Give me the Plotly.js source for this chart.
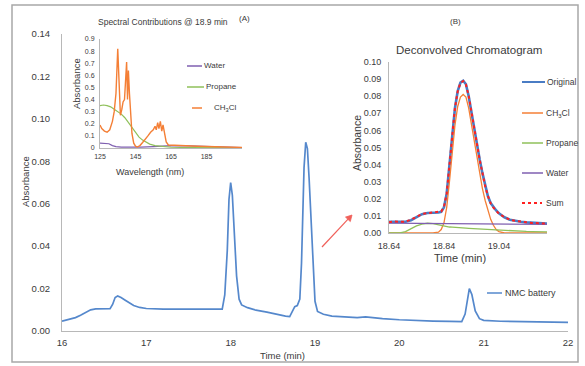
<!DOCTYPE html>
<html>
<head>
<meta charset="utf-8">
<script src="https://cdn.plot.ly/plotly-3.0.1.min.js"></script>
<style>html,body{margin:0;padding:0;background:#fff;}#chart{width:585px;height:366px;}</style>
</head>
<body>
<div id="chart"></div>
<script>
// ---------- Main chromatogram (NMC battery) ----------
const timeMain = [16.00,16.08,16.16,16.22,16.28,16.34,16.40,16.50,16.57,16.60,16.63,16.66,16.70,16.75,16.80,16.85,16.92,17.00,17.20,17.40,17.60,17.80,17.90,17.93,17.96,17.98,18.00,18.02,18.04,18.07,18.10,18.13,18.20,18.30,18.43,18.55,18.65,18.70,18.73,18.76,18.79,18.82,18.84,18.85,18.87,18.89,18.91,18.93,18.95,18.97,19.00,19.03,19.10,19.20,19.35,19.50,19.60,19.68,19.80,20.00,20.20,20.40,20.60,20.74,20.78,20.81,20.83,20.86,20.90,20.95,21.00,21.20,21.40,21.60,21.80,22.00];
const nmcBattery = [0.0046,0.0053,0.0063,0.0074,0.0088,0.0100,0.0104,0.0104,0.0105,0.0125,0.0158,0.0165,0.0158,0.0145,0.0131,0.0120,0.0111,0.0106,0.0103,0.0102,0.0101,0.0101,0.0103,0.0170,0.0380,0.0620,0.0700,0.0640,0.0490,0.0260,0.0150,0.0123,0.0110,0.0098,0.0089,0.0078,0.0070,0.0068,0.0090,0.0115,0.0120,0.0150,0.0320,0.0510,0.0770,0.0890,0.0860,0.0720,0.0560,0.0340,0.0140,0.0092,0.0079,0.0070,0.0065,0.0063,0.0067,0.0063,0.0058,0.0053,0.0049,0.0047,0.0045,0.0044,0.0080,0.0165,0.0200,0.0172,0.0095,0.0058,0.0050,0.0046,0.0045,0.0043,0.0042,0.0041];

// ---------- Inset A: spectral contributions ----------
const wlCH3Cl = [125,126,127.5,129,130.5,132,133,134,135,135.8,136.5,137.3,138,138.8,139.4,140,140.5,141,141.6,142.2,143,144,145,146,147.5,149,150.5,152,153.5,155,156,156.7,157.5,158.2,159,159.8,160.5,161.3,162.3,163.5,167,172,180,190,198,205];
const specCH3Cl = [0.19,0.16,0.14,0.13,0.15,0.22,0.30,0.45,0.82,0.50,0.27,0.32,0.38,0.40,0.55,0.71,0.40,0.64,0.45,0.25,0.12,0.04,0.015,0.008,0.02,0.045,0.07,0.10,0.13,0.15,0.18,0.15,0.21,0.16,0.22,0.14,0.19,0.13,0.05,0.025,0.022,0.02,0.015,0.01,0.007,0.005];
const wlPropane = [125,127,129,131,133,135,137,139,141,143,145,147,149,151,153,156,160,165,175,190,205];
const specPropane = [0.35,0.355,0.35,0.34,0.32,0.30,0.28,0.25,0.21,0.16,0.12,0.09,0.065,0.045,0.032,0.02,0.012,0.006,0.004,0.002,0.001];
const wlWater = [125,128,130,132,134,137,142,148,155,160,165,175,185,195,205];
const specWater = [0.04,0.04,0.035,0.02,0.012,0.008,0.006,0.008,0.012,0.018,0.02,0.018,0.012,0.007,0.004];
const wlTicks = [125,145,165,185];

// ---------- Inset B: deconvolved chromatogram ----------
const timeB = [18.64,18.66,18.68,18.70,18.72,18.74,18.76,18.78,18.80,18.82,18.83,18.84,18.85,18.86,18.87,18.88,18.89,18.90,18.91,18.92,18.93,18.94,18.95,18.96,18.97,18.98,18.99,19.00,19.01,19.02,19.03,19.04,19.06,19.08,19.10,19.12,19.14,19.16,19.18,19.20,19.215];
const original = [0.0065,0.0066,0.0064,0.0066,0.0075,0.0095,0.0110,0.0117,0.0118,0.0120,0.0124,0.0150,0.0230,0.0400,0.0580,0.0730,0.0830,0.0880,0.0890,0.0870,0.0800,0.0705,0.0610,0.0515,0.0430,0.0350,0.0275,0.0215,0.0175,0.0150,0.0132,0.0115,0.0092,0.0078,0.0070,0.0066,0.0062,0.0060,0.0058,0.0056,0.0055];
const sumFit = [0.0063,0.0067,0.0065,0.0067,0.0078,0.0096,0.0111,0.0116,0.0119,0.0121,0.0126,0.0152,0.0232,0.0398,0.0578,0.0732,0.0828,0.0878,0.0888,0.0868,0.0802,0.0707,0.0608,0.0517,0.0428,0.0352,0.0273,0.0217,0.0173,0.0148,0.0130,0.0113,0.0093,0.0077,0.0071,0.0065,0.0063,0.0059,0.0059,0.0056,0.0054];
const ch3clB = [0,0,0,0,0,0,0,0,0,0.0005,0.0020,0.0060,0.0150,0.0300,0.0480,0.0630,0.0740,0.0795,0.0810,0.0795,0.0730,0.0640,0.0540,0.0440,0.0345,0.0260,0.0190,0.0130,0.0080,0.0045,0.0020,0.0008,0,0,0,0,0,0,0,0,0];
const propaneB = [0,0,0.0001,0.0008,0.0025,0.0042,0.0052,0.0057,0.0055,0.0047,0.0043,0.0040,0.0037,0.0035,0.0034,0.0032,0.0031,0.0030,0.0029,0.0028,0.0027,0.0026,0.0025,0.0024,0.0023,0.0021,0.0020,0.0019,0.0018,0.0017,0.0016,0.0015,0.0013,0.0012,0.0011,0.0010,0.0009,0.0008,0.0007,0.0006,0.0006];
const timeWaterB = [18.64,18.80,19.00,19.215];
const waterB = [0.0058,0.0056,0.0053,0.0050];
const timeBTicks = [18.64,18.84,19.04];

// ---------- styling ----------
const W = 585, H = 366;
const px = x => x / W;
const py = y => 1 - y / H;
const FONT = 'Liberation Sans, Arial, sans-serif';
const TXT = '#3a3a3a';
const C = {blue:'#5588cc', orange:'#f47f36', green:'#8fc05a', purple:'#7f5fb0', red:'#ff2020', origBlue:'#4a7cc4', arrow:'#f0605a'};

const traces = [
  {x: timeMain, y: nmcBattery, name: 'NMC battery', type:'scatter', mode:'lines', line:{color:C.blue, width:1.7}, xaxis:'x', yaxis:'y', showlegend:false},
  {x: wlWater, y: specWater, name:'Water', type:'scatter', mode:'lines', line:{color:C.purple, width:1.2}, xaxis:'x2', yaxis:'y2', showlegend:false},
  {x: wlPropane, y: specPropane, name:'Propane', type:'scatter', mode:'lines', line:{color:C.green, width:1.2}, xaxis:'x2', yaxis:'y2', showlegend:false},
  {x: wlCH3Cl, y: specCH3Cl, name:'CH3Cl', type:'scatter', mode:'lines', line:{color:C.orange, width:1.4}, xaxis:'x2', yaxis:'y2', showlegend:false},
  {x: timeB, y: original, name:'Original', type:'scatter', mode:'lines', line:{color:C.origBlue, width:2.6}, xaxis:'x3', yaxis:'y3', showlegend:false},
  {x: timeB, y: ch3clB, name:'CH3Cl', type:'scatter', mode:'lines', line:{color:C.orange, width:1.3}, xaxis:'x3', yaxis:'y3', showlegend:false},
  {x: timeB, y: propaneB, name:'Propane', type:'scatter', mode:'lines', line:{color:C.green, width:1.3}, xaxis:'x3', yaxis:'y3', showlegend:false},
  {x: timeWaterB, y: waterB, name:'Water', type:'scatter', mode:'lines', line:{color:C.purple, width:1.3}, xaxis:'x3', yaxis:'y3', showlegend:false},
  {x: timeB, y: sumFit, name:'Sum', type:'scatter', mode:'lines', line:{color:C.red, width:2, dash:'dot'}, xaxis:'x3', yaxis:'y3', showlegend:false}
];

const axBase = {showgrid:false, zeroline:false, showline:true, linecolor:'#b8b8b8', linewidth:1, ticks:'', color:TXT};

function ann(text, x, y, size, opts) {
  return Object.assign({text:text, x:px(x), y:py(y), xref:'paper', yref:'paper', showarrow:false,
    font:{family:FONT, size:size, color:TXT}, xanchor:'center', yanchor:'middle'}, opts || {});
}
function legLine(x0, x1, y, color, dash, width) {
  return {type:'line', xref:'paper', yref:'paper', x0:px(x0), x1:px(x1), y0:py(y), y1:py(y), line:{color:color, width:width||1.5, dash:dash||'solid'}};
}
// arrow pointing at inset B (tail 322,247 -> tip 352,215)
const arrowPath = 'M' + px(352) + ',' + py(215) + ' L' + px(350.3) + ',' + py(221.6) + ' L' + px(345.5) + ',' + py(217.1) + ' Z';

const layout = {
  width: W, height: H,
  margin:{l:0, r:0, t:0, b:0},
  paper_bgcolor:'#fff', plot_bgcolor:'rgba(0,0,0,0)',
  font:{family:FONT, color:TXT},
  showlegend:false,
  xaxis: Object.assign({}, axBase, {domain:[px(62), px(568)], range:[16,22], dtick:1, tick0:16, tickfont:{size:9.5, family:FONT}, ticklabelstandoff:3, anchor:'y'}),
  yaxis: Object.assign({}, axBase, {domain:[py(331), py(34)], range:[0,0.14], dtick:0.02, tickformat:'.2f', tickfont:{size:9.5, family:FONT}, ticklabelstandoff:9, anchor:'x'}),
  xaxis2: Object.assign({}, axBase, {domain:[px(100), px(242)], range:[125,205], tickvals:wlTicks, tickfont:{size:7, family:FONT}, ticklabelstandoff:2, anchor:'y2'}),
  yaxis2: Object.assign({}, axBase, {domain:[py(148), py(39)], range:[0,0.9], dtick:0.1, tickfont:{size:7, family:FONT}, ticklabelstandoff:3, anchor:'x2'}),
  xaxis3: Object.assign({}, axBase, {domain:[px(389), px(547)], range:[18.64,19.215], tickvals:timeBTicks, tickformat:'.2f', tickfont:{size:9, family:FONT}, ticklabelstandoff:4, anchor:'y3'}),
  yaxis3: Object.assign({}, axBase, {domain:[py(233), py(62)], range:[0,0.10], dtick:0.01, tickformat:'.2f', tickfont:{size:9, family:FONT}, ticklabelstandoff:5, anchor:'x3'}),
  shapes: [
    {type:'rect', xref:'paper', yref:'paper', x0:px(12), x1:px(578), y0:py(362), y1:py(5), line:{color:'#a8a8a8', width:1.5}},
    {type:'line', xref:'paper', yref:'paper', x0:px(322), y0:py(247), x1:px(348.5), y1:py(218.7), line:{color:C.arrow, width:1.2}},
    {type:'path', xref:'paper', yref:'paper', path:arrowPath, fillcolor:C.arrow, line:{color:C.arrow, width:0.8}},
    legLine(487, 502, 293, C.blue, 'solid', 1.5),
    legLine(187, 202, 66, C.purple, 'solid', 1.5),
    legLine(187, 204, 87, C.green, 'solid', 1.5),
    legLine(192, 202, 108, C.orange, 'solid', 1.5),
    legLine(522, 545, 82, C.origBlue, 'solid', 2),
    legLine(522, 543, 113, C.orange, 'solid', 1.5),
    legLine(522, 543, 143, C.green, 'solid', 1.5),
    legLine(522, 543, 173, C.purple, 'solid', 1.5),
    legLine(522, 542, 203, C.red, 'dot', 2)
  ],
  annotations: [
    ann('Time (min)', 282, 355, 9.5),
    ann('Absorbance', 25, 182, 9.5, {textangle:-90}),
    ann('NMC battery', 503, 293, 9, {xanchor:'left'}),
    ann('Spectral Contributions @ 18.9 min', 163, 22, 8.5),
    ann('(A)', 244, 18, 8),
    ann('Absorbance', 76, 84, 9.5, {textangle:-90}),
    ann('Wavelength (nm)', 150, 172, 9),
    ann('Water', 202, 66, 8, {xanchor:'left'}),
    ann('Propane', 204, 87, 8, {xanchor:'left'}),
    ann('CH<sub>3</sub>Cl', 212, 108, 8, {xanchor:'left'}),
    ann('(B)', 455, 22, 8),
    ann('Deconvolved Chromatogram', 469, 50, 11.5),
    ann('Absorbance', 357, 143, 10.5, {textangle:-90}),
    ann('Time (min)', 460, 258, 11),
    ann('Original', 545, 82, 8.5, {xanchor:'left'}),
    ann('CH<sub>3</sub>Cl', 544, 113, 8.5, {xanchor:'left'}),
    ann('Propane', 544, 143, 8.5, {xanchor:'left'}),
    ann('Water', 544, 173, 8.5, {xanchor:'left'}),
    ann('Sum', 544, 203, 8.5, {xanchor:'left'})
  ]
};

Plotly.newPlot('chart', traces, layout, {displayModeBar:false, staticPlot:true});
</script>
</body>
</html>
